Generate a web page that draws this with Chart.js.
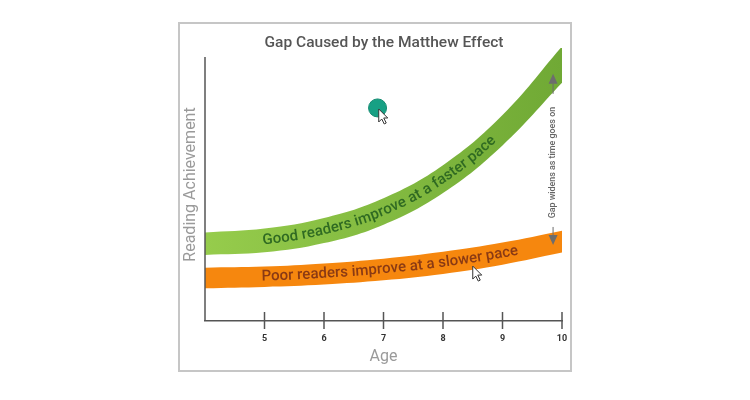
<!DOCTYPE html>
<html>
<head>
<meta charset="utf-8">
<script src="https://cdn.jsdelivr.net/npm/chart.js@4.4.1/dist/chart.umd.min.js"></script>
<style>
  html, body { margin: 0; padding: 0; background: #fff; }
  #wrap { width: 750px; height: 400px; }
</style>
</head>
<body>
<div id="wrap"><canvas id="chart"></canvas></div>
<script>
// ages along x, values on an arbitrary 0-100 achievement scale
const ages = [4, 5, 6, 7, 8, 9, 10];
const tickAges = [5, 6, 7, 8, 9, 10];
const goodHigh = [33.5, 35, 39, 46.5, 59, 78, 104];
const goodLow = [25, 26, 29.5, 36.5, 48.5, 66.5, 90.2];
const poorHigh = [20.2, 20.6, 21.8, 23.6, 26.2, 29.7, 34.2];
const poorLow = [12.4, 12.9, 13.8, 15.4, 17.8, 21.3, 25.9];
const goodLabel = 'Good readers improve at a faster pace';
const poorLabel = 'Poor readers improve at a slower pace';
const gapLabel = 'Gap widens as time goes on';
const dotPoint = [{ x: 6.9, y: 80.7 }];
const cursorPoints = [{ x: 6.92, y: 80.3 }, { x: 8.5, y: 20.8 }];

Chart.defaults.font.family = 'Roboto';

function toXY(ys) {
    return ys.map((y, i) => ({ x: ages[i], y: y }));
}

function cubic(p0, p1, p2, p3, t) {
    const u = 1 - t;
    return u * u * u * p0 + 3 * u * u * t * p1 + 3 * u * t * t * p2 + t * t * t * p3;
}

// y pixel of a dataset's drawn curve at pixel x
function curveY(meta, px) {
    const pts = meta.data;
    for (let i = 0; i < pts.length - 1; i++) {
        const a = pts[i], b = pts[i + 1];
        if (px >= a.x && px <= b.x) {
            const c1x = a.cp2x ?? a.x, c1y = a.cp2y ?? a.y;
            const c2x = b.cp1x ?? b.x, c2y = b.cp1y ?? b.y;
            let lo = 0, hi = 1;
            for (let k = 0; k < 30; k++) {
                const t = (lo + hi) / 2;
                if (cubic(a.x, c1x, c2x, b.x, t) < px) lo = t; else hi = t;
            }
            return cubic(a.y, c1y, c2y, b.y, (lo + hi) / 2);
        }
    }
    return pts[pts.length - 1].y;
}

function textAlong(ctx, text, startX, fy) {
    let x = startX;
    for (const ch of text) {
        const w = ctx.measureText(ch).width;
        const ang = Math.atan((fy(x + 2) - fy(x - 2)) / 4);
        ctx.save();
        ctx.translate(x, fy(x));
        ctx.rotate(ang);
        ctx.fillText(ch, 0, 0);
        ctx.restore();
        x += w * Math.cos(ang);
    }
}

const framePlugin = {
    id: 'frame',
    beforeDraw(chart) {
        const ctx = chart.ctx;
        ctx.save();
        ctx.strokeStyle = '#c6c6c6';
        ctx.lineWidth = 2;
        ctx.strokeRect(179, 23, 392, 348);
        ctx.restore();
    }
};

const annotatePlugin = {
    id: 'annotate',
    afterDraw(chart) {
        const ctx = chart.ctx;
        const xs = chart.scales.x, ys = chart.scales.y;
        const mid = (i, j) => (px) => (curveY(chart.getDatasetMeta(i), px) + curveY(chart.getDatasetMeta(j), px)) / 2;

        // y axis line (stops at 100) and tick marks crossing the x axis
        ctx.save();
        ctx.strokeStyle = '#555';
        ctx.lineWidth = 1.5;
        ctx.beginPath();
        ctx.moveTo(xs.left, ys.getPixelForValue(100));
        ctx.lineTo(xs.left, ys.bottom);
        ctx.stroke();
        tickAges.forEach(a => {
            const px = xs.getPixelForValue(a);
            ctx.beginPath();
            ctx.moveTo(px, ys.bottom - 9);
            ctx.lineTo(px, ys.bottom + 8);
            ctx.stroke();
        });
        ctx.restore();

        // labels along the bands
        ctx.save();
        ctx.font = '500 15px Roboto';
        ctx.textAlign = 'left';
        ctx.textBaseline = 'middle';
        ctx.fillStyle = '#2f6a22';
        textAlong(ctx, goodLabel, xs.getPixelForValue(4.97), mid(0, 1));
        ctx.fillStyle = '#8a3a14';
        textAlong(ctx, poorLabel, xs.getPixelForValue(4.95), mid(2, 3));
        ctx.restore();

        // gap arrow
        const ax = xs.getPixelForValue(9.85);
        const topTip = ys.getPixelForValue(93.6), botTip = ys.getPixelForValue(28.8);
        const textMid = ys.getPixelForValue(60);
        ctx.save();
        ctx.fillStyle = '#6d6d6d';
        ctx.strokeStyle = '#6d6d6d';
        ctx.lineWidth = 1;
        ctx.beginPath();
        ctx.moveTo(ax, topTip); ctx.lineTo(ax - 4.5, topTip + 10); ctx.lineTo(ax + 4.5, topTip + 10); ctx.closePath();
        ctx.fill();
        ctx.beginPath();
        ctx.moveTo(ax, botTip); ctx.lineTo(ax - 4.5, botTip - 10); ctx.lineTo(ax + 4.5, botTip - 10); ctx.closePath();
        ctx.fill();
        ctx.beginPath();
        ctx.moveTo(ax, topTip + 10); ctx.lineTo(ax, topTip + 20);
        ctx.moveTo(ax, botTip - 10); ctx.lineTo(ax, botTip - 18);
        ctx.stroke();
        ctx.translate(ax, textMid);
        ctx.rotate(-Math.PI / 2);
        ctx.font = '500 8.9px Roboto';
        ctx.fillStyle = '#666';
        ctx.textAlign = 'center';
        ctx.textBaseline = 'middle';
        ctx.fillText(gapLabel, 0, 0);
        ctx.restore();

        // mouse cursors
        cursorPoints.forEach(p => {
            const cx = xs.getPixelForValue(p.x), cy = ys.getPixelForValue(p.y);
            ctx.save();
            ctx.translate(cx, cy);
            ctx.beginPath();
            ctx.moveTo(0, 0); ctx.lineTo(0, 13); ctx.lineTo(3, 10); ctx.lineTo(5.5, 15);
            ctx.lineTo(7.5, 14); ctx.lineTo(5, 9); ctx.lineTo(9, 9); ctx.closePath();
            ctx.fillStyle = '#fff';
            ctx.fill();
            ctx.strokeStyle = '#333';
            ctx.lineWidth = 1;
            ctx.stroke();
            ctx.restore();
        });
    }
};

function greenFill(context) {
    const area = context.chart.chartArea;
    if (!area) return '#8cc43f';
    const g = context.chart.ctx.createLinearGradient(area.left, 0, area.right, 0);
    g.addColorStop(0, '#96cc4c');
    g.addColorStop(1, '#70a935');
    return g;
}

const bandLine = { borderWidth: 0, pointRadius: 0, tension: 0.4 };

new Chart(document.getElementById('chart'), {
    type: 'line',
    data: {
        datasets: [
            { ...bandLine, label: 'Good high', data: toXY(goodHigh), fill: '+1', backgroundColor: greenFill },
            { ...bandLine, label: 'Good low', data: toXY(goodLow), fill: false },
            { ...bandLine, label: 'Poor high', data: toXY(poorHigh), fill: '+1', backgroundColor: '#f6870e' },
            { ...bandLine, label: 'Poor low', data: toXY(poorLow), fill: false },
            {
                label: 'Dot', data: dotPoint, showLine: false, pointRadius: 9,
                pointBackgroundColor: '#17a084', pointBorderColor: '#128a70', pointBorderWidth: 1
            }
        ]
    },
    options: {
        responsive: true,
        maintainAspectRatio: false,
        animation: false,
        layout: { padding: { left: 175, right: 157, top: 0, bottom: 29 } },
        plugins: {
            legend: { display: false },
            tooltip: { enabled: false },
            title: {
                display: true,
                text: 'Gap Caused by the Matthew Effect',
                color: '#555',
                font: { size: 15.5, weight: '500' },
                padding: { top: 33.7, bottom: -4.3 }
            }
        },
        scales: {
            x: {
                type: 'linear',
                min: 4,
                max: 10,
                afterBuildTicks: s => { s.ticks = tickAges.map(v => ({ value: v })); },
                afterFit: s => { s.height = 50; },
                grid: { display: false, drawTicks: false },
                border: { display: true, color: '#555', width: 1.5 },
                ticks: { color: '#333', padding: 12, font: { size: 9, weight: 'bold' } },
                title: { display: true, text: 'Age', color: '#9a9a9a', font: { size: 16 }, padding: { top: 0, bottom: 4 } }
            },
            y: {
                min: 0,
                max: 103.4,
                afterFit: s => { s.width = 30; },
                grid: { display: false, drawTicks: false },
                border: { display: false },
                ticks: { display: false },
                title: { display: true, text: 'Reading Achievement', color: '#9a9a9a', font: { size: 16 }, padding: { top: 6.4, bottom: 0 } }
            },
            y2: {
                position: 'right',
                afterFit: s => { s.width = 31; },
                grid: { display: false, drawTicks: false },
                border: { display: false },
                ticks: { display: false }
            }
        }
    },
    plugins: [framePlugin, annotatePlugin]
});
</script>
</body>
</html>
